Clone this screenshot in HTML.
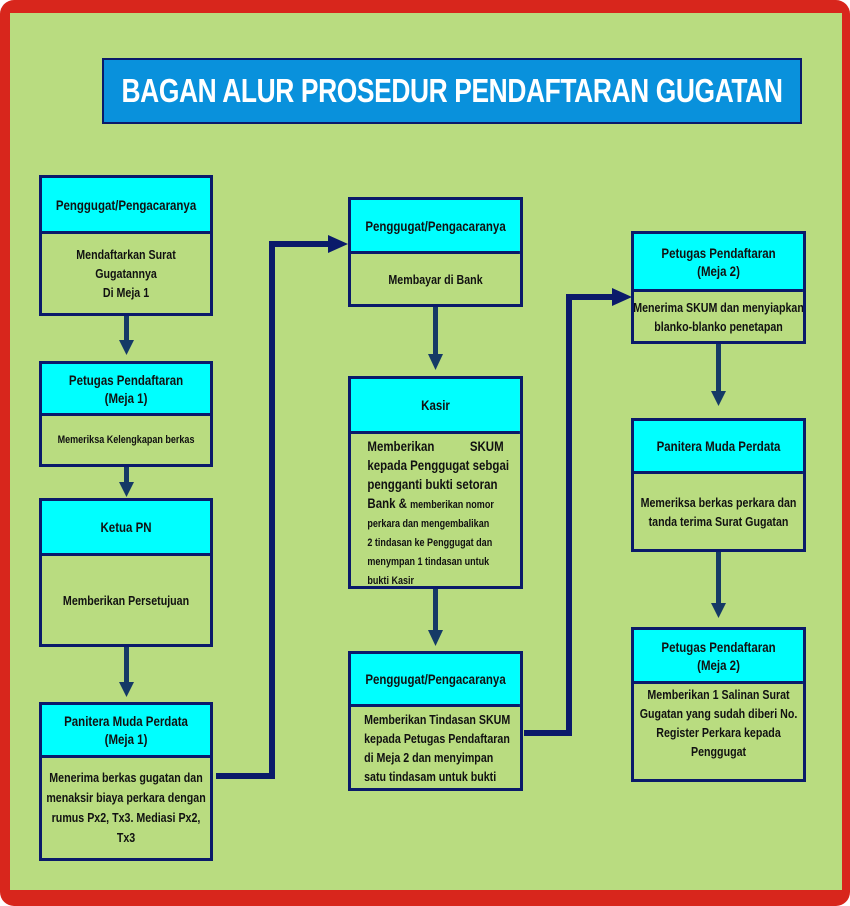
<!DOCTYPE html>
<html><head><meta charset="utf-8"><style>
body{margin:0;width:850px;height:906px;overflow:hidden;background:#fff;}
#o{position:absolute;left:0;top:0;width:850px;height:906px;background:#d8261c;border-radius:14px;}
#g{position:absolute;left:10px;top:13px;width:832px;height:877px;background:#b9dc80;}
.t{position:absolute;left:102px;top:58px;width:696px;height:62px;background:#0991dc;border:2px solid #0a1a6a;}
.t div{position:absolute;left:0;top:0;width:870px;height:62px;transform:scaleX(.8);transform-origin:0 0;color:#fff;font:bold 33px "Liberation Sans",sans-serif;display:flex;align-items:center;justify-content:center;white-space:nowrap;letter-spacing:-0.5px;}
.b{position:absolute;border:3px solid #0a1a6a;box-sizing:border-box;font:bold 13px "Liberation Sans",sans-serif;color:#111;text-align:center;overflow:hidden;}
.b>div{width:122%;transform:scaleX(.82);transform-origin:0 0;box-sizing:border-box;white-space:nowrap;}
.h{background:#00ffff;border-bottom:3px solid #0a1a6a;display:flex;align-items:center;justify-content:center;font-size:14px;line-height:18px;}
.c{display:flex;align-items:center;justify-content:center;line-height:19px;padding:0 2px;}
svg{position:absolute;left:0;top:0;}
</style></head><body>
<div id="o"></div><div id="g"></div>
<div class="t"><div>BAGAN ALUR PROSEDUR PENDAFTARAN GUGATAN</div></div>
<svg width="850" height="906">
<g fill="#153a66">
<rect x="124" y="314" width="5" height="30"/><polygon points="119,340 134,340 126.5,355"/>
<rect x="124" y="466" width="5" height="20"/><polygon points="119,482 134,482 126.5,497"/>
<rect x="124" y="646" width="5" height="40"/><polygon points="119,682 134,682 126.5,697"/>
<rect x="433" y="306" width="5" height="50"/><polygon points="428,354 443,354 435.5,370"/>
<rect x="433" y="588" width="5" height="44"/><polygon points="428,630 443,630 435.5,646"/>
<rect x="716" y="343" width="5" height="50"/><polygon points="711,391 726,391 718.5,406"/>
<rect x="716" y="551" width="5" height="55"/><polygon points="711,603 726,603 718.5,618"/>
</g>
<g fill="none" stroke="#0a1a6a" stroke-width="6">
<polyline points="216,776 272,776 272,244 330,244"/>
<polyline points="524,733 569,733 569,297 614,297"/>
</g>
<g fill="#0a1a6a">
<polygon points="328,235 348,244 328,253"/>
<polygon points="612,288 632,297 612,306"/>
</g>
</svg>
<div class="b" style="left:39px;top:175px;width:174px;height:141px"><div class="h" style="height:56px">Penggugat/Pengacaranya</div><div class="c" style="height:79px">Mendaftarkan Surat<br>Gugatannya<br>Di Meja 1</div></div>
<div class="b" style="left:39px;top:361px;width:174px;height:106px"><div class="h" style="height:52px">Petugas Pendaftaran<br>(Meja 1)</div><div class="c" style="height:48px;font-size:11px">Memeriksa Kelengkapan berkas</div></div>
<div class="b" style="left:39px;top:498px;width:174px;height:149px"><div class="h" style="height:55px">Ketua PN</div><div class="c" style="height:88px">Memberikan Persetujuan</div></div>
<div class="b" style="left:39px;top:702px;width:174px;height:159px"><div class="h" style="height:53px">Panitera Muda Perdata<br>(Meja 1)</div><div class="c" style="height:100px;line-height:20px">Menerima berkas gugatan dan<br>menaksir biaya perkara dengan<br>rumus Px2, Tx3. Mediasi Px2,<br>Tx3</div></div>

<div class="b" style="left:348px;top:197px;width:175px;height:110px"><div class="h" style="height:54px">Penggugat/Pengacaranya</div><div class="c" style="height:50px">Membayar di Bank</div></div>
<div class="b" style="left:348px;top:376px;width:175px;height:213px"><div class="h" style="height:55px">Kasir</div><div style="text-align:left;padding:3px 20px 0 20px;font-size:14px;line-height:19px"><div style="display:flex;justify-content:space-between"><span>Memberikan</span><span>SKUM</span></div>kepada Penggugat sebgai<br>pengganti bukti setoran<br>Bank &amp; <span style="font-size:11px">memberikan nomor</span><div style="font-size:11px;line-height:19px">perkara dan mengembalikan<br>2 tindasan ke Penggugat dan<br>menympan 1 tindasan untuk<br>bukti Kasir</div></div></div>
<div class="b" style="left:348px;top:651px;width:175px;height:140px"><div class="h" style="height:53px">Penggugat/Pengacaranya</div><div style="text-align:left;padding:3px 6px 0 16px;line-height:19px">Memberikan Tindasan SKUM<br>kepada Petugas Pendaftaran<br>di Meja 2 dan menyimpan<br>satu tindasam untuk bukti</div></div>

<div class="b" style="left:631px;top:231px;width:175px;height:113px"><div class="h" style="height:58px">Petugas Pendaftaran<br>(Meja 2)</div><div class="c" style="height:49px">Menerima SKUM dan menyiapkan<br>blanko-blanko penetapan</div></div>
<div class="b" style="left:631px;top:418px;width:175px;height:134px"><div class="h" style="height:53px">Panitera Muda Perdata</div><div class="c" style="height:75px">Memeriksa berkas perkara dan<br>tanda terima Surat Gugatan</div></div>
<div class="b" style="left:631px;top:627px;width:175px;height:155px"><div class="h" style="height:54px">Petugas Pendaftaran<br>(Meja 2)</div><div class="c" style="height:94px;padding-bottom:16px">Memberikan 1 Salinan Surat<br>Gugatan yang sudah diberi No.<br>Register Perkara kepada<br>Penggugat</div></div>
</body></html>
